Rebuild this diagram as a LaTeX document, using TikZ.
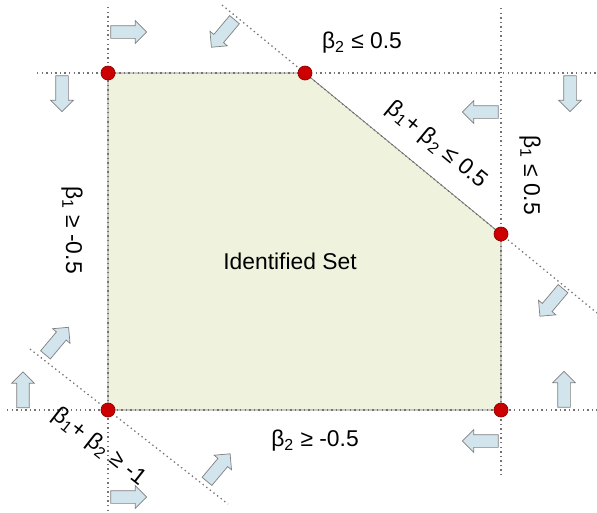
\documentclass[tikz,border=0pt]{standalone}
\usepackage{fontspec}
\setmainfont{Liberation Sans}
\usetikzlibrary{shapes.arrows}

\definecolor{setfill}{RGB}{239,242,220}
\definecolor{pushfill}{RGB}{210,228,236}
\definecolor{dotred}{RGB}{204,0,0}

\newcommand{\bt}[1]{β\textsubscript{#1}}

\begin{document}
\begin{tikzpicture}[x=0.02cm, y=-0.02cm,
    font=\fontsize{13}{15}\selectfont,
    region/.style={draw=black!55, fill=setfill},
    bound/.style={draw=black!55, line width=0.7pt, dash pattern=on 0.8pt off 1.8pt},
    vertex/.style={circle, fill=dotred, draw=dotred!70!black, inner sep=0pt, minimum size=0.28cm},
    push/.style={single arrow, draw=black!50, fill=pushfill, inner xsep=0pt, inner ysep=0.12cm,
      minimum height=0.72cm, single arrow head extend=0.1cm},
    lbl/.style={inner sep=1pt}
  ]
  \useasboundingbox (0,0) rectangle (597,512);

  % corners of the set
  \coordinate (tl) at (108,73);
  \coordinate (tm) at (305,73);
  \coordinate (rm) at (501,234);
  \coordinate (br) at (501,410);
  \coordinate (bl) at (108,410);

  \draw[region] (tl) -- (tm) -- (rm) -- (br) -- (bl) -- cycle;

  % ends of the constraint lines
  \coordinate (lefttop) at (108,7);
  \coordinate (leftbot) at (108,510);
  \coordinate (topleft) at (37,73);
  \coordinate (topright) at (597,73);
  \coordinate (righttop) at (501,8);
  \coordinate (rightbot) at (501,478);
  \coordinate (botleft) at (7,410);
  \coordinate (botright) at (597,410);
  \coordinate (diagtop) at (222,5);
  \coordinate (diagbot) at (597,313);
  \coordinate (lowtop) at (30,349);
  \coordinate (lowbot) at (228,504);

  \draw[bound] (lefttop) -- (leftbot);
  \draw[bound] (topleft) -- (topright);
  \draw[bound] (righttop) -- (rightbot);
  \draw[bound] (botleft) -- (botright);
  \draw[bound] (diagtop) -- (diagbot);
  \draw[bound] (lowtop) -- (lowbot);

  \node[vertex] (vtl) at (tl) {};
  \node[vertex] (vtm) at (tm) {};
  \node[vertex] (vrm) at (rm) {};
  \node[vertex] (vbr) at (br) {};
  \node[vertex] (vbl) at (bl) {};

  % direction of each half-plane
  \node[push] (p1) at (125.5,32) {};
  \node[push, rotate=-90] (p2) at (62,90.5) {};
  \node[push, rotate=-130] (p3) at (225,31) {};
  \node[push, rotate=-90] (p4) at (570,90.5) {};
  \node[push, rotate=180] (p5) at (483.5,112) {};
  \node[push, rotate=-130] (p6) at (553.5,300) {};
  \node[push, rotate=90] (p7) at (564,392.5) {};
  \node[push, rotate=180] (p8) at (483.5,441) {};
  \node[push, rotate=50] (p9) at (55,343.5) {};
  \node[push, rotate=90] (p10) at (23,393) {};
  \node[push] (p11) at (125.5,497) {};
  \node[push, rotate=50] (p12) at (216.5,470) {};

  \node[lbl] (set) at (290,261) {Identified Set};
  \node[lbl] (b2up) at (362,43) {\bt{2} ≤ 0.5};
  \node[lbl] (b2lo) at (315,441) {\bt{2} ≥ -0.5};
  \node[lbl, rotate=-90] (b1up) at (530,175) {\bt{1} ≤ 0.5};
  \node[lbl, rotate=-90] (b1lo) at (72,230) {\bt{1} ≥ -0.5};
  \node[lbl, rotate=-39.4] (sumup) at (437,145) {\bt{1}+ \bt{2} ≤ 0.5};
  \node[lbl, rotate=-38] (sumlo) at (99,447) {\bt{1}+ \bt{2} ≥ -1};
\end{tikzpicture}
\end{document}
